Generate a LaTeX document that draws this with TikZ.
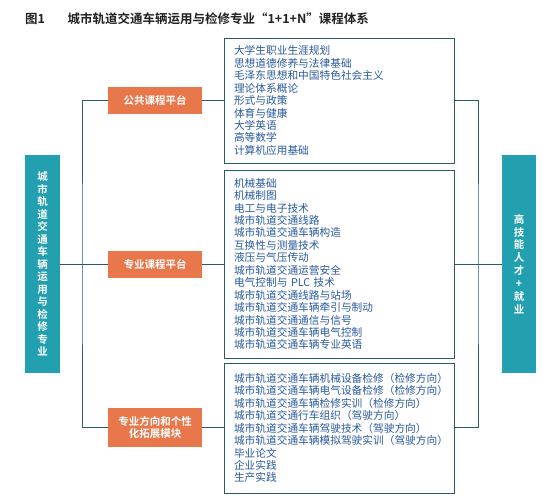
\documentclass[tikz,border=0pt]{standalone}
\usepackage{fontspec}
\setmainfont{Noto Sans CJK SC}[BoldFont={Noto Sans CJK SC Bold}]
\definecolor{tealbox}{HTML}{22A0AF}
\definecolor{orangebox}{HTML}{E8774B}
\definecolor{linec}{HTML}{2B5A6B}
\definecolor{textblue}{HTML}{2A5A9C}
\definecolor{titlec}{HTML}{222222}
\tikzset{
  conn/.style={draw=linec, line width=0.8pt},
  tealnode/.style={fill=tealbox, text=white, font=\bfseries\fontsize{10.5}{12.5}\selectfont, align=center, inner sep=0pt},
  orangenode/.style={fill=orangebox, text=white, font=\bfseries\fontsize{10.5}{12}\selectfont, align=center, minimum width=94pt, inner sep=0pt},
  listbox/.style={draw=linec, line width=0.8pt, text=textblue, font=\fontsize{10.7}{12.45}\selectfont, align=left, text width=210pt, inner xsep=10pt, inner ysep=0pt, minimum width=230pt},
}
\begin{document}
\begin{tikzpicture}[x=1pt,y=-1pt]
\useasboundingbox (0,0) rectangle (551,498);
\fill[white] (0,0) rectangle (551,498);
\node[anchor=west, text=titlec, font=\bfseries\fontsize{12.5}{14}\selectfont, inner sep=0pt] (title) at (25,19) {图1\hspace{1.8em}城市轨道交通车辆运用与检修专业“1+1+N”课程体系};

\node[tealnode, minimum width=35pt, minimum height=218pt] (left) at (42.5,264) {城\\市\\轨\\道\\交\\通\\车\\辆\\运\\用\\与\\检\\修\\专\\业};
\node[tealnode, minimum width=34pt, minimum height=218pt, font=\bfseries\fontsize{10.5}{12.9}\selectfont] (right) at (519,264) {高\\技\\能\\人\\才\\+\\就\\业};

\node[orangenode, minimum height=27pt] (p1) at (155,100.5) {公共课程平台};
\node[orangenode, minimum height=27pt] (p2) at (155,264) {专业课程平台};
\node[orangenode, minimum height=39pt] (p3) at (155,427.5) {专业方向和个性\\化拓展模块};

\node[listbox, minimum height=125pt] (c1) at (339,100.5) {大学生职业生涯规划\\思想道德修养与法律基础\\毛泽东思想和中国特色社会主义\\理论体系概论\\形式与政策\\体育与健康\\大学英语\\高等数学\\计算机应用基础};
\node[listbox, minimum height=188pt] (c2) at (339,264) {机械基础\\机械制图\\电工与电子技术\\城市轨道交通线路\\城市轨道交通车辆构造\\互换性与测量技术\\液压与气压传动\\城市轨道交通运营安全\\电气控制与 PLC 技术\\城市轨道交通线路与站场\\城市轨道交通车辆牵引与制动\\城市轨道交通通信与信号\\城市轨道交通车辆电气控制\\城市轨道交通车辆专业英语};
\node[listbox, minimum height=130pt] (c3) at (339,428) {城市轨道交通车辆机械设备检修（检修方向）\\城市轨道交通车辆电气设备检修（检修方向）\\城市轨道交通车辆检修实训（检修方向）\\城市轨道交通行车组织（驾驶方向）\\城市轨道交通车辆驾驶技术（驾驶方向）\\城市轨道交通车辆模拟驾驶实训（驾驶方向）\\毕业论文\\企业实践\\生产实践};

\coordinate (bl) at (82,264);
\coordinate (br) at (478,264);
\draw[conn] (left.east) -- (p2.west);
\draw[conn] (p1.west) -| (bl) |- (p3.west);
\draw[conn] (p1.east) -- (c1.west);
\draw[conn] (p2.east) -- (c2.west);
\draw[conn] (p3.east) -- (c3.west |- p3.east);
\draw[conn] (c1.east |- p1.east) -| (br) |- (c3.east |- p3.east);
\draw[conn] (c2.east) -- (right.west);
\end{tikzpicture}
\end{document}
